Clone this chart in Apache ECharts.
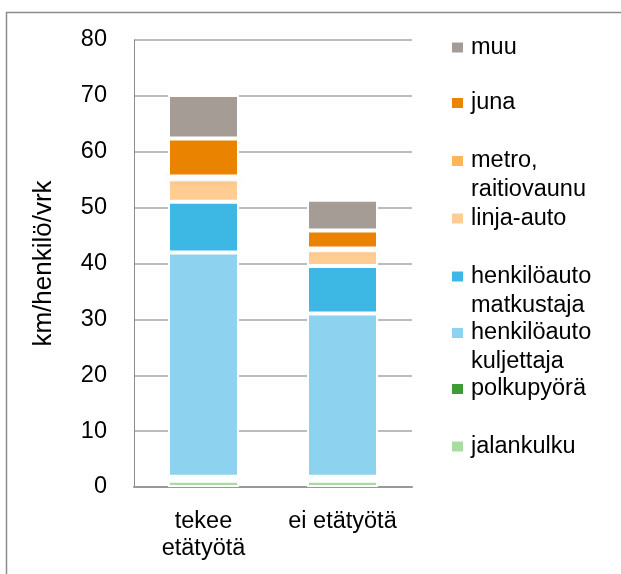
<!DOCTYPE html>
<html>
<head>
<meta charset="utf-8">
<script src="https://cdn.jsdelivr.net/npm/echarts@6/dist/echarts.min.js"></script>
<style>
html,body{margin:0;padding:0;background:#fff;}
#chart{width:621px;height:574px;}
</style>
</head>
<body>
<div id="chart"></div>
<script>
// Data
const categories = ['tekee\netätyötä', 'ei etätyötä'];
const seriesNames = ['jalankulku', 'polkupyörä', 'henkilöauto kuljettaja', 'henkilöauto matkustaja', 'linja-auto', 'metro, raitiovaunu', 'juna', 'muu'];
const jalankulku = [1.1, 1.1];
const polkupyora = [0.75, 0.75];
const kuljettaja = [40.1, 29.2];
const matkustaja = [9.1, 8.5];
const linjaAuto = [4.0, 2.8];
const metro = [0.5, 0.35];
const juna = [6.8, 3.2];
const muu = [7.8, 5.5];
const yTicks = [0, 10, 20, 30, 40, 50, 60, 70, 80];

const seriesValues = [jalankulku, polkupyora, kuljettaja, matkustaja, linjaAuto, metro, juna, muu];
const colors = ['#a8dca0', '#3f9b35', '#8dd3ef', '#3db7e4', '#ffcc92', '#ffb55a', '#e98300', '#a59c96'];
const legendLabels = {
  'jalankulku': 'jalankulku',
  'polkupyörä': 'polkupyörä',
  'henkilöauto kuljettaja': ' \nhenkilöauto\nkuljettaja',
  'henkilöauto matkustaja': ' \nhenkilöauto\nmatkustaja',
  'linja-auto': 'linja-auto',
  'metro, raitiovaunu': ' \nmetro,\nraitiovaunu',
  'juna': 'juna',
  'muu': 'muu'
};
const legendCenters = {
  'muu': 47.5,
  'juna': 103,
  'metro, raitiovaunu': 161,
  'linja-auto': 218.5,
  'henkilöauto matkustaja': 276.5,
  'henkilöauto kuljettaja': 333,
  'polkupyörä': 389,
  'jalankulku': 446.5
};
const LH = 29;

const FONT = "'Liberation Sans', Arial, sans-serif";
const FS = 23.5;
const chart = echarts.init(document.getElementById('chart'), null, {renderer: 'canvas'});

const option = {
  backgroundColor: '#fff',
  animation: false,
  textStyle: {fontFamily: FONT},
  graphic: [{
    type: 'rect',
    shape: {x: 6.5, y: 12.5, width: 800, height: 800},
    style: {fill: 'none', stroke: '#8c8c8c', lineWidth: 1.5},
    silent: true,
    z: -10
  }],
  grid: {left: 134, right: 209, top: 40, bottom: 87, containLabel: false},
  legend: seriesNames.map(n => {
    const lines = legendLabels[n].split('\n').length;
    return {
      data: [n],
      left: 450,
      top: legendCenters[n] - lines * LH / 2,
      padding: 0,
      orient: 'vertical',
      icon: 'rect',
      itemWidth: 13,
      itemHeight: 12,
      selectedMode: false,
      formatter: name => legendLabels[name],
      textStyle: {fontSize: FS, lineHeight: LH, color: '#000', fontFamily: FONT, padding: [0, 0, 0, 2]}
    };
  }),
  xAxis: {
    type: 'category',
    data: categories,
    axisTick: {show: false},
    axisLine: {lineStyle: {color: '#999', width: 2}},
    axisLabel: {interval: 0, fontSize: FS, lineHeight: 27, margin: 21, color: '#000', fontFamily: FONT}
  },
  yAxis: {
    type: 'value',
    min: yTicks[0],
    max: yTicks[yTicks.length - 1],
    interval: 10,
    name: 'km/henkilö/vrk',
    nameLocation: 'middle',
    nameGap: 77,
    nameTextStyle: {fontSize: 26, color: '#000', fontFamily: FONT},
    axisLine: {show: true, lineStyle: {color: '#8c8c8c', width: 1}},
    axisTick: {show: false},
    axisLabel: {fontSize: FS, color: '#000', margin: 27, fontFamily: FONT},
    splitLine: {lineStyle: {color: '#a6a6a6', width: 1.5}}
  },
  series: seriesNames.map((n, i) => ({
    name: n,
    type: 'bar',
    stack: 'total',
    barWidth: 71,
    data: seriesValues[i],
    itemStyle: Object.assign({
      color: colors[i],
      borderColor: '#fff',
      borderWidth: 2
    }, n === 'metro, raitiovaunu' ? {shadowBlur: 8, shadowColor: 'rgba(0,0,0,0.12)'} : {})
  }))
};
chart.setOption(option);
</script>
</body>
</html>
